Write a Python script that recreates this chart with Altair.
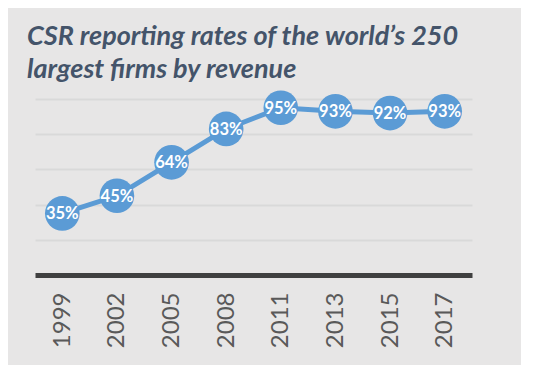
import altair as alt
import pandas as pd

years = ["1999", "2002", "2005", "2008", "2011", "2013", "2015", "2017"]
rates = [35, 45, 64, 83, 95, 93, 92, 93]
labels = [f"{v}%" for v in rates]

df = pd.DataFrame({"year": years, "rate": rates, "label": labels})

BLUE = "#5b9bd5"

x = alt.X("year:N", sort=years, title=None,
          axis=alt.Axis(labelAngle=-90, labelAlign="right", labelBaseline="middle",
                        labelFont="Lato", labelFontSize=24, labelColor="#595959",
                        labelPadding=17, ticks=False, domainColor="#404040",
                        domainWidth=5, grid=False))
y = alt.Y("rate:Q", scale=alt.Scale(domain=[0, 100], nice=False), title=None,
          axis=alt.Axis(values=[20, 40, 60, 80, 100], labels=False, ticks=False,
                        domain=False, grid=True, gridColor="#d9d9d9", gridWidth=2))

base = alt.Chart(df)
line = base.mark_line(color=BLUE, strokeWidth=5).encode(x=x, y=y)
pts = base.mark_circle(color=BLUE, opacity=1, size=1200).encode(x=x, y=y)
txt = base.mark_text(color="white", font="Lato", fontWeight="bold", fontSize=16.5,
                     baseline="middle", align="center", dy=1).encode(x=x, y=y, text="label:N")

chart = alt.layer(line, pts, txt).properties(
    width=437, height=176,
    autosize=alt.AutoSizeParams(type="none"),
    padding={"left": 27, "top": 91, "right": 49, "bottom": 90},
    title=alt.TitleParams(
        text=["CSR reporting rates of the world\u2019s 250", "largest firms by revenue"],
        anchor="start", font="Lato", fontSize=27, fontWeight="bold", fontStyle="italic",
        color="#44546a", lineHeight=33, dx=-8, offset=6),
).configure(background="#e7e6e6").configure_view(stroke=None)

chart.save("out.html", embed_options={"renderer": "svg", "actions": False})
